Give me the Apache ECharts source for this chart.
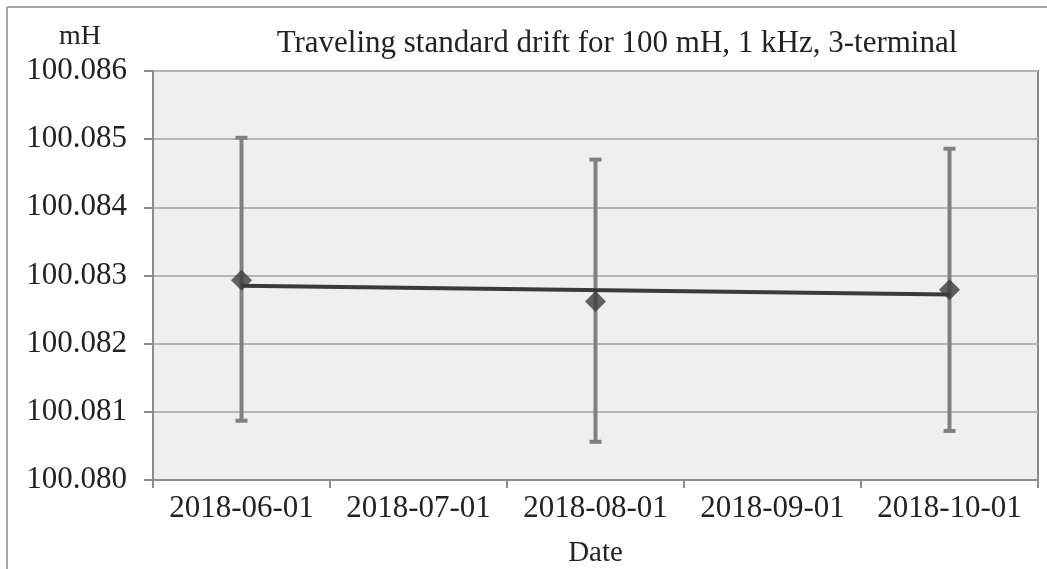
<!DOCTYPE html>
<html>
<head>
<meta charset="utf-8">
<script src="https://cdn.jsdelivr.net/npm/echarts@6/dist/echarts.min.js"></script>
<style>
  html, body { margin: 0; padding: 0; background: #fff; }
  #chart { width: 1047px; height: 569px; }
</style>
</head>
<body>
<div id="chart"></div>
<script>
// values
const dates = ['2018-06-01', '2018-07-01', '2018-08-01', '2018-09-01', '2018-10-01'];
const measured = [100.08293, null, 100.08262, null, 100.08279];
const errLow = [100.08087, null, 100.08056, null, 100.08072];
const errHigh = [100.08502, null, 100.08470, null, 100.08486];
const trend = [100.08285, null, null, null, 100.08272];
const yTicks = { min: 100.080, max: 100.086, step: 0.001 };

const font = 'Liberation Serif';

let errData = [];
for (let i = 0; i < dates.length; i++) {
  if (errLow[i] != null) errData.push([i, errLow[i], errHigh[i]]);
}

let chart = echarts.init(document.getElementById('chart'));
let option = {
  backgroundColor: '#fff',
  animation: false,
  title: [
    {
      text: 'Traveling standard drift for 100 mH, 1 kHz, 3-terminal',
      left: 617, top: 28, textAlign: 'center', padding: 0,
      textStyle: { fontFamily: font, fontSize: 31, fontWeight: 'normal', color: '#222' }
    },
    {
      text: 'mH',
      left: 80, top: 23, textAlign: 'center', padding: 0,
      textStyle: { fontFamily: font, fontSize: 28, fontWeight: 'normal', color: '#222' }
    }
  ],
  grid: {
    left: 153, right: 9, top: 71, bottom: 89,
    outerBoundsMode: 'none',
    show: true, backgroundColor: '#efefef',
    borderColor: '#8c8c8c', borderWidth: 2
  },
  xAxis: {
    type: 'category',
    data: dates,
    boundaryGap: true,
    name: 'Date',
    nameLocation: 'middle',
    nameGap: 59,
    nameTextStyle: { fontFamily: font, fontSize: 29, color: '#222' },
    axisLine: { lineStyle: { color: '#8c8c8c', width: 2 } },
    axisTick: { show: true, length: 8, lineStyle: { color: '#8c8c8c', width: 2 } },
    axisLabel: { fontFamily: font, fontSize: 31, color: '#222', margin: 13, interval: 0 },
    splitLine: { show: false }
  },
  yAxis: {
    type: 'value',
    min: yTicks.min, max: yTicks.max, interval: yTicks.step,
    axisLine: { show: true, lineStyle: { color: '#8c8c8c', width: 2 } },
    axisTick: { show: true, length: 9, lineStyle: { color: '#8c8c8c', width: 2 } },
    axisLabel: {
      fontFamily: font, fontSize: 31, color: '#222', margin: 26,
      formatter: v => v.toFixed(3)
    },
    splitLine: { lineStyle: { color: '#b4b4b4', width: 2 } }
  },
  graphic: [
    { type: 'line', shape: { x1: 7, y1: 7, x2: 1047, y2: 7 }, style: { stroke: '#a8a8a8', lineWidth: 2 } },
    { type: 'line', shape: { x1: 7, y1: 7, x2: 7, y2: 569 }, style: { stroke: '#a8a8a8', lineWidth: 2 } }
  ],
  series: [
    {
      type: 'custom',
      z: 2,
      data: errData,
      renderItem: function (params, api) {
        let x = api.coord([api.value(0), api.value(1)])[0];
        let yLow = api.coord([api.value(0), api.value(1)])[1];
        let yHigh = api.coord([api.value(0), api.value(2)])[1];
        let st = { stroke: '#808080', lineWidth: 4 };
        return {
          type: 'group',
          children: [
            { type: 'line', shape: { x1: x, y1: yHigh, x2: x, y2: yLow }, style: st },
            { type: 'line', shape: { x1: x - 6, y1: yHigh, x2: x + 6, y2: yHigh }, style: st },
            { type: 'line', shape: { x1: x - 6, y1: yLow, x2: x + 6, y2: yLow }, style: st }
          ]
        };
      }
    },
    {
      type: 'line',
      z: 3,
      data: trend,
      connectNulls: true,
      showSymbol: false,
      symbol: 'none',
      lineStyle: { color: '#3a3a3a', width: 4 }
    },
    {
      type: 'scatter',
      z: 4,
      data: measured,
      symbol: 'diamond',
      symbolSize: [21, 21],
      itemStyle: { color: '#3c3c3c' }
    }
  ]
};
chart.setOption(option);
</script>
</body>
</html>
